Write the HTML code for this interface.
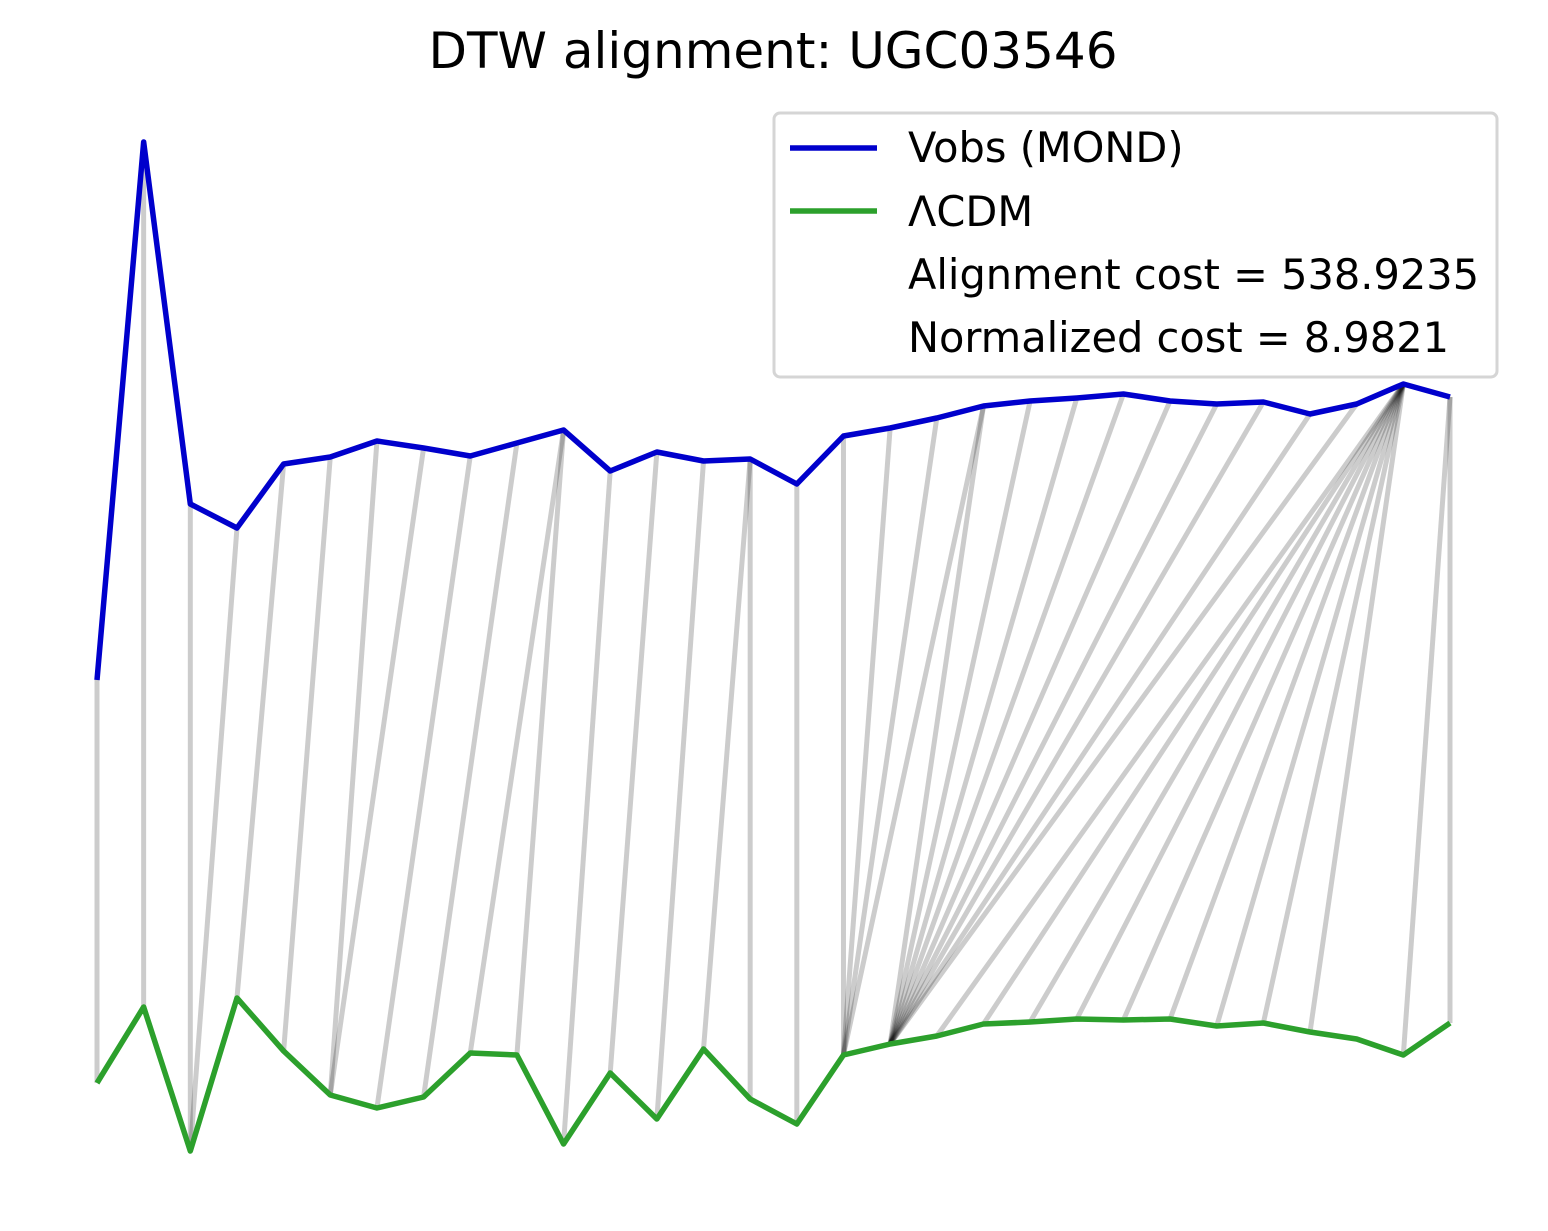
<!DOCTYPE html>
<html><head><meta charset="utf-8"><style>
body{margin:0;background:#fff;}
svg{display:block;font-family:"DejaVu Sans","Liberation Sans",sans-serif;}
</style></head><body>
<svg id="chart" width="1548" height="1231" viewBox="0 0 1548 1231">
<text x="773" y="68" font-size="50" text-anchor="middle">DTW alignment: UGC03546</text>
<g id="links"></g>
<g id="series"></g>
<g>
<rect x="774" y="113" width="723" height="264" rx="6" fill="#fff" fill-opacity="0.8" stroke="#d5d5d5" stroke-width="3"/>
<line x1="790" y1="148" x2="877" y2="148" stroke="#0000cc" stroke-width="5.5"/>
<text x="908" y="162" font-size="41.5">Vobs (MOND)</text>
<line x1="790" y1="211" x2="877" y2="211" stroke="#2ca02c" stroke-width="5.5"/>
<text x="908" y="226" font-size="41.5">ΛCDM</text>
<text x="908" y="289" font-size="41.5">Alignment cost = 538.9235</text>
<text x="908" y="352" font-size="41.5">Normalized cost = 8.9821</text>
</g>
</svg>
<script>
const mondValues = [500,1038,676,652,716,723,739,732,724,737,750,709,728,719,721,696,744,752,762,774,779,782,786,779,776,778,766,776,796,783];
const lcdmValues = [97,173,29,182,129,85,72,83,127,125,36,107,61,131,81,56,125,136,144,156,158,161,160,161,154,157,148,141,125,157];
const pathMond = [0,1,2,3,4,5,6,7,8,9,10,10,11,12,13,14,14,15,16,17,18,19,19,20,21,22,23,24,25,26,27,28,28,28,28,28,28,28,28,28,29,29];
const pathLcdm = [0,1,2,2,3,4,5,5,6,7,8,9,10,11,12,13,14,15,16,16,16,16,17,17,17,17,17,17,17,17,17,18,19,20,21,22,23,24,25,26,28,29];
const NS='http://www.w3.org/2000/svg';
const xScale = i => 97 + i*(1450-97)/29;
const yScale = v => 1180 - v;
const links=document.getElementById('links'), series=document.getElementById('series');
for(let k=0;k<pathMond.length;k++){
  const l=document.createElementNS(NS,'line');
  l.setAttribute('x1',xScale(pathMond[k]));l.setAttribute('y1',yScale(mondValues[pathMond[k]]));
  l.setAttribute('x2',xScale(pathLcdm[k]));l.setAttribute('y2',yScale(lcdmValues[pathLcdm[k]]));
  l.setAttribute('stroke','rgba(0,0,0,0.2)');l.setAttribute('stroke-width','5');
  
  
  links.appendChild(l);
}
function poly(vals,color,name){
  const p=document.createElementNS(NS,'polyline');
  p.setAttribute('points',vals.map((v,i)=>xScale(i)+','+yScale(v)).join(' '));
  p.setAttribute('fill','none');p.setAttribute('stroke',color);p.setAttribute('stroke-width','5.5');
  p.setAttribute('stroke-linejoin','round');
  
  
  series.appendChild(p);
}
poly(mondValues,'#0000cc','mond-line');
poly(lcdmValues,'#2ca02c','lcdm-line');
</script>
</body></html>
